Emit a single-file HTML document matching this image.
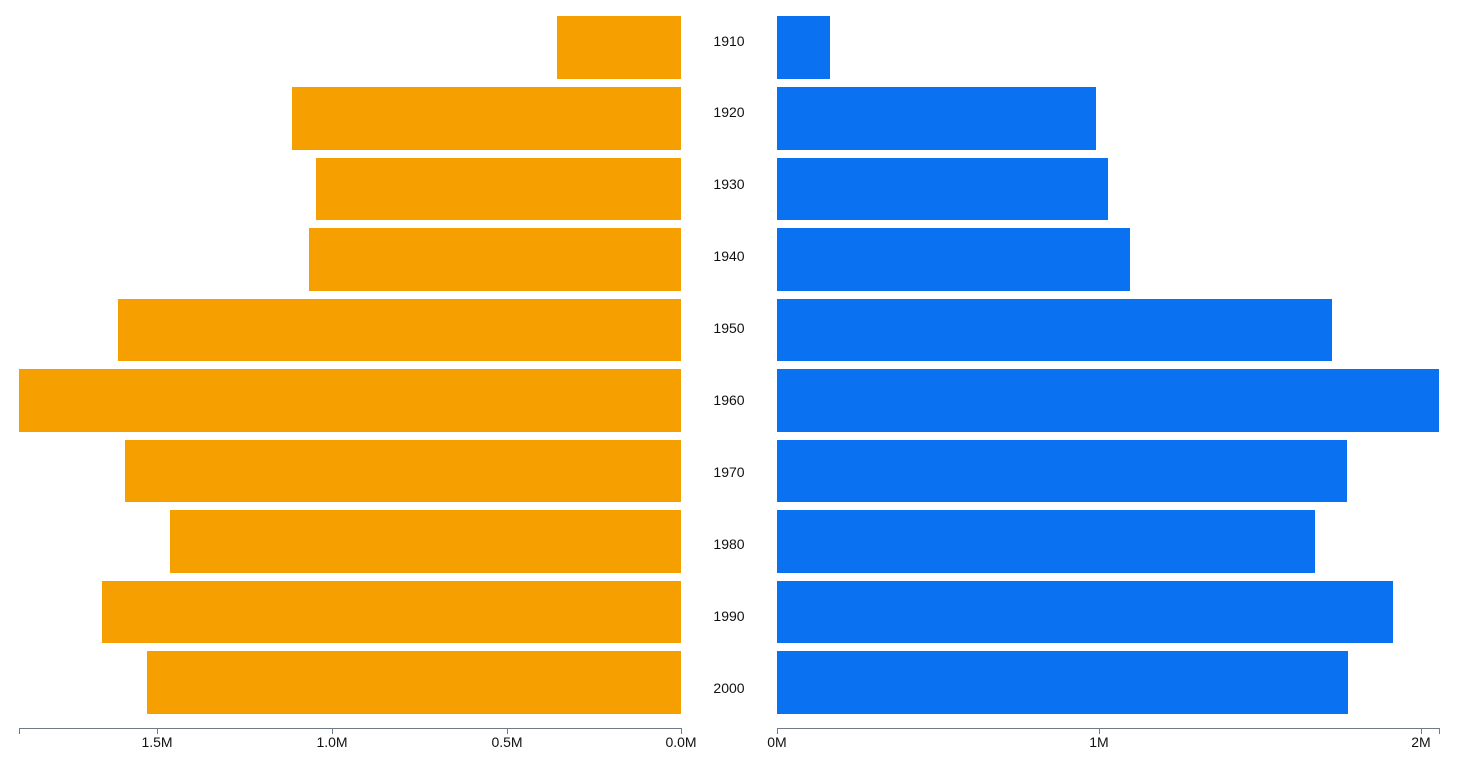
<!DOCTYPE html>
<html><head><style>body{margin:0;background:#fff}</style></head><body>
<svg width="1457" height="764" xmlns="http://www.w3.org/2000/svg" font-family="Liberation Sans, sans-serif" font-size="14">
<g fill="#F5A000">
<rect x="557" y="16" width="124" height="63"/>
<rect x="292" y="87" width="389" height="63"/>
<rect x="316" y="158" width="365" height="62"/>
<rect x="309" y="228" width="372" height="63"/>
<rect x="118" y="299" width="563" height="62"/>
<rect x="19" y="369" width="662" height="63"/>
<rect x="125" y="440" width="556" height="62"/>
<rect x="170" y="510" width="511" height="63"/>
<rect x="102" y="581" width="579" height="62"/>
<rect x="147" y="651" width="534" height="63"/>
</g>
<g fill="#0A72F0">
<rect x="777" y="16" width="53" height="63"/>
<rect x="777" y="87" width="319" height="63"/>
<rect x="777" y="158" width="331" height="62"/>
<rect x="777" y="228" width="353" height="63"/>
<rect x="777" y="299" width="555" height="62"/>
<rect x="777" y="369" width="662" height="63"/>
<rect x="777" y="440" width="570" height="62"/>
<rect x="777" y="510" width="538" height="63"/>
<rect x="777" y="581" width="616" height="62"/>
<rect x="777" y="651" width="571" height="63"/>
</g>
<g fill="#111" text-anchor="middle">
<text x="729" y="46">1910</text><text x="729" y="117">1920</text><text x="729" y="189">1930</text>
<text x="729" y="261">1940</text><text x="729" y="333">1950</text><text x="729" y="405">1960</text>
<text x="729" y="477">1970</text><text x="729" y="549">1980</text><text x="729" y="621">1990</text>
<text x="729" y="693">2000</text>
</g>
<g stroke="#6E7B88" fill="none" stroke-width="1">
<path d="M19.5,734V728.5H681.5V734"/>
<path d="M157.5,728V734M332.5,728V734M507.5,728V734"/>
<path d="M777.5,734V728.5H1439.5V734"/>
<path d="M1099.5,728V734M1421.5,728V734"/>
</g>
<g fill="#111" text-anchor="middle">
<text x="157" y="747">1.5M</text><text x="332" y="747">1.0M</text><text x="507" y="747">0.5M</text><text x="681" y="747">0.0M</text>
<text x="777" y="747">0M</text><text x="1099" y="747">1M</text><text x="1421" y="747">2M</text>
</g>
</svg>
</body></html>
